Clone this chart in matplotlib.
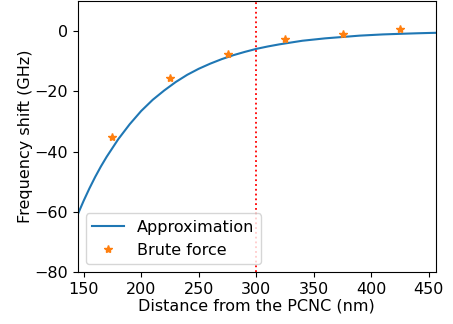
import matplotlib
matplotlib.use("Agg")
import matplotlib.pyplot as plt

# Approximation curve
approx_x = [145, 150, 155, 160, 165, 170, 180, 190, 200, 210, 220, 230, 240, 250,
            260, 270, 280, 290, 300, 310, 320, 330, 340, 350, 360, 370, 380,
            390, 400, 410, 420, 430, 440, 450, 456]
approx_y = [-60.7, -56.3, -52.2, -48.4, -44.9, -41.7, -35.9, -30.9, -26.5, -22.8,
            -19.7, -16.9, -14.5, -12.5, -10.8, -9.3, -8.0, -6.9, -5.9, -5.1,
            -4.4, -3.8, -3.2, -2.8, -2.4, -2.1, -1.8, -1.5, -1.3, -1.1, -0.97,
            -0.84, -0.72, -0.62, -0.57]

# Brute force points
brute_x = [175, 225, 275, 325, 375, 425]
brute_y = [-35.0, -15.6, -7.6, -2.7, -0.8, 0.6]

threshold_x = 300

plt.rcParams['font.size'] = 11.5
fig = plt.figure(figsize=(4.53, 3.24), dpi=100)
ax = fig.add_axes([0.172, 0.160, 0.790, 0.837])

ax.plot(approx_x, approx_y, color='C0', label='Approximation')
ax.plot(brute_x, brute_y, '*', color='C1', markersize=6, label='Brute force')
ax.axvline(threshold_x, color='red', linestyle=':', linewidth=1.3)

ax.set_xlim(145, 456)
ax.set_ylim(-80, 10)
ax.set_xticks([150, 200, 250, 300, 350, 400, 450])
ax.set_yticks([-80, -60, -40, -20, 0])
ax.set_xlabel('Distance from the PCNC (nm)', labelpad=1)
ax.set_ylabel('Frequency shift (GHz)', labelpad=1)
ax.legend(loc='lower left')

fig.savefig('out.png', dpi=100)
